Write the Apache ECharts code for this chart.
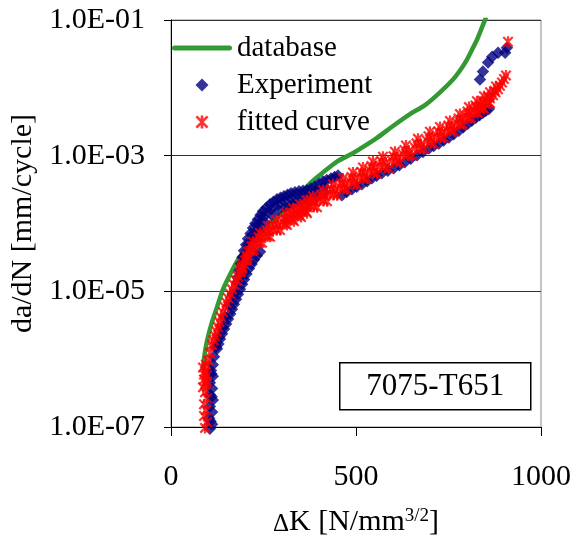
<!DOCTYPE html>
<html><head><meta charset="utf-8">
<script src="https://cdn.jsdelivr.net/npm/echarts@6/dist/echarts.min.js"></script>
<style>html,body{margin:0;padding:0;background:#fff}#c{width:574px;height:542px}</style>
</head><body><div id="c"></div>
<script>
// ---- data ----
const seriesNames = ['database', 'Experiment', 'fitted curve'];
const xTicks = [0, 500, 1000];
const yTickLabels = ['1.0E-07', '1.0E-05', '1.0E-03', '1.0E-01'];
const boxLabel = '7075-T651';

const dbK = [86.5, 91.9, 100, 110.8, 124.3, 140.5, 159.5, 181.1, 208.1, 235.1, 262.2, 294.6, 327, 375.7, 410.8, 448.6, 483.8, 510.8, 556.8, 600, 645.9, 686.5, 727, 762.2, 781.1, 800, 813.5, 827, 837.8, 848.6, 856.8];
const dbRate = [7.26e-7, 1.29e-6, 2.13e-6, 3.52e-6, 5.83e-6, 1.07e-5, 1.77e-5, 2.93e-5, 4.70e-5, 6.79e-5, 9.20e-5, 1.33e-4, 1.99e-4, 3.90e-4, 5.65e-4, 8.17e-4, 1.03e-3, 1.26e-3, 1.83e-3, 2.74e-3, 4.10e-3, 5.56e-3, 8.59e-3, 1.33e-2, 1.80e-2, 2.61e-2, 3.65e-2, 5.11e-2, 7.14e-2, 0.1, 0.131];

const expK = [
  105, 111, 103, 111, 105, 113, 105, 111, 105, 113, 108, 113, 107, 110, 109,
  116.2, 121.6, 129.7, 137.8, 145.9, 156.8, 167.6, 178.4, 180.5, 189.2, 197.3, 208.1, 221.6, 235.1, 248.6, 267.6, 286.5, 305.4, 324.3, 345.9, 367.6, 389.2, 410.8, 432.4, 451.4,
  185, 193, 203, 215, 228, 242, 258, 277, 296, 315, 335, 357, 378, 400, 421, 442,
  191, 199, 210, 224, 237, 251, 270, 289, 308, 327, 348, 370, 391, 413,
  193.3, 201.3, 212.1, 225.6, 239.1, 252.6, 271.6, 290.5, 309.4, 328.3, 349.9, 371.6, 393.2, 414.8,
  124.3, 132.4, 143.2, 154, 164.9, 175.7, 186.5, 197.3, 210.8, 224.3, 240.5,
  128, 138, 149, 160, 170, 181, 192, 204, 218, 232,
  462, 489, 516, 543, 570, 602, 632, 665, 697, 724, 751, 778, 802, 824, 843, 859,
  475, 502, 530, 556, 586, 617, 648, 681, 710, 737, 764, 790, 813, 834, 851,
  835, 843, 857, 868, 884, 903, 908
];
const expRate = [
  9.4e-8, 1.1e-7, 1.35e-7, 1.66e-7, 2.0e-7, 2.5e-7, 3.0e-7, 3.7e-7, 4.5e-7, 5.6e-7, 6.8e-7, 8.3e-7, 1.22e-7, 2.8e-7, 6.1e-7,
  1.09e-6, 1.52e-6, 2.13e-6, 2.98e-6, 4.17e-6, 6.25e-6, 9.04e-6, 1.35e-5, 1.60e-5, 2.56e-5, 3.97e-5, 5.94e-5, 8.59e-5, 1.16e-4, 1.52e-4, 1.93e-4, 2.28e-4, 2.52e-4, 2.79e-4, 2.98e-4, 3.08e-4, 3.52e-4, 4.17e-4, 4.61e-4, 5.11e-4,
  2.03e-5, 3.19e-5, 4.86e-5, 7.14e-5, 9.98e-5, 1.33e-4, 1.71e-4, 2.10e-4, 2.40e-4, 2.65e-4, 2.88e-4, 3.03e-4, 3.29e-4, 3.83e-4, 4.38e-4, 4.85e-4,
  2.13e-5, 3.30e-5, 4.94e-5, 7.14e-5, 9.64e-5, 1.26e-4, 1.60e-4, 1.90e-4, 2.09e-4, 2.32e-4, 2.48e-4, 2.56e-4, 2.93e-4, 3.47e-4,
  1.77e-5, 2.74e-5, 4.10e-5, 5.94e-5, 8.02e-5, 1.05e-4, 1.33e-4, 1.58e-4, 1.74e-4, 1.93e-4, 2.06e-4, 2.13e-4, 2.43e-4, 2.88e-4,
  1.42e-6, 1.99e-6, 2.79e-6, 3.90e-6, 5.46e-6, 7.64e-6, 1.07e-5, 1.50e-5, 2.17e-5, 2.93e-5, 3.84e-5,
  1.68e-6, 2.36e-6, 3.30e-6, 4.62e-6, 6.46e-6, 9.04e-6, 1.27e-5, 1.80e-5, 2.52e-5, 3.35e-5,
  2.62e-4, 3.21e-4, 3.79e-4, 4.65e-4, 5.49e-4, 6.50e-4, 8.0e-4, 1.01e-3, 1.28e-3, 1.51e-3, 1.85e-3, 2.33e-3, 2.95e-3, 3.62e-3, 4.28e-3, 4.88e-3,
  2.91e-4, 3.49e-4, 4.20e-4, 5.05e-4, 5.98e-4, 7.22e-4, 8.98e-4, 1.13e-3, 1.39e-3, 1.67e-3, 2.07e-3, 2.62e-3, 3.26e-3, 3.93e-3, 4.58e-3,
  1.33e-2, 1.74e-2, 2.36e-2, 2.88e-2, 3.30e-2, 3.30e-2, 3.90e-2
];

const fitK = [
  91.9, 97.3, 89.2, 94.6, 89.2, 97.3, 91.9, 86.5, 94.6, 89.2, 97.3, 91.9, 86.5, 94.6, 100, 89.2, 97.3, 105.4,
  110.8, 118.9, 127, 135.1, 145.9, 154, 164.9, 175.7, 186.5, 200, 213.5, 232.4, 254.1, 275.7, 302.7, 321.6, 340.5, 359.5, 375.7, 402.7, 429.7, 456.8, 483.8, 510.8, 537.8, 564.9, 597.3, 627, 659.5, 691.9, 718.9, 745.9, 773, 797.3, 818.9, 837.8, 854.1, 870.3, 883.8, 894.6, 905.4, 910.8,
  114.8, 123, 131, 140.5, 150, 159.5, 170.3, 181,
  193, 207, 223, 243, 265, 289, 312, 331, 350, 368, 389, 416, 443, 470, 497, 524, 551, 581, 612, 643, 676, 705, 732, 759, 785, 808, 828, 846, 862, 877, 889, 900,
  194.5, 208, 221.5, 240.4, 262.1, 283.7, 310.7, 329.6, 348.5, 367.5, 383.7, 410.7, 437.7, 464.8, 491.8, 518.8, 545.8, 572.9, 605.3, 635, 667.5, 699.9, 726.9, 753.9, 781, 805.3, 826.9, 845.8, 862.1, 878.3,
  178.5, 192, 205.5, 224.4, 246.1, 267.7, 294.7, 313.6, 332.5, 351.5, 367.7, 394.7, 421.7, 448.8, 475.8, 502.8, 529.8, 556.9, 589.3, 619, 651.5, 683.9, 710.9, 737.9, 765, 789.3, 810.9, 829.8, 846.1, 862.3,
  190.5, 204, 217.5, 236.4, 258.1, 279.7, 306.7, 325.6, 344.5, 363.5, 379.7, 406.7, 433.7, 460.8, 487.8, 514.8, 541.8, 568.9, 601.3, 631, 663.5, 695.9, 722.9, 749.9, 777, 801.3, 822.9, 841.8, 858.1, 874.3,
  190, 204, 220, 240, 262, 286, 309, 328, 347, 365, 386, 413, 440, 467, 494, 521, 548, 578, 609, 640, 673, 702, 729, 756, 782, 805, 825, 843, 859
];
const fitRate = [
  9.7e-8, 1.18e-7, 1.45e-7, 1.77e-7, 2.17e-7, 2.65e-7, 3.24e-7, 3.84e-7, 4.39e-7, 5.02e-7, 5.74e-7, 6.57e-7, 7.52e-7, 8.32e-7, 9.51e-7, 5.94e-7, 4.70e-7, 1.24e-6,
  1.63e-6, 2.20e-6, 2.98e-6, 4.17e-6, 5.83e-6, 7.91e-6, 1.07e-5, 1.45e-5, 1.89e-5, 2.84e-5, 3.97e-5, 5.37e-5, 6.79e-5, 8.32e-5, 1.05e-4, 1.24e-4, 1.42e-4, 1.63e-4, 1.86e-4, 2.28e-4, 2.79e-4, 3.41e-4, 4.17e-4, 4.93e-4, 6.04e-4, 7.14e-4, 8.45e-4, 1.04e-3, 1.31e-3, 1.66e-3, 1.96e-3, 2.40e-3, 3.03e-3, 3.84e-3, 4.70e-3, 5.56e-3, 6.35e-3, 7.78e-3, 9.51e-3, 1.20e-2, 1.52e-2, 4.77e-2,
  1.9e-6, 2.56e-6, 3.52e-6, 4.93e-6, 6.79e-6, 9.2e-6, 1.25e-5, 1.66e-5,
  2.32e-5, 3.36e-5, 4.62e-5, 6.04e-5, 7.52e-5, 9.35e-5, 1.14e-4, 1.33e-4, 1.52e-4, 1.74e-4, 2.06e-4, 2.52e-4, 3.08e-4, 3.77e-4, 4.53e-4, 5.46e-4, 6.57e-4, 7.77e-4, 9.37e-4, 1.17e-3, 1.47e-3, 1.80e-3, 2.17e-3, 2.70e-3, 3.41e-3, 4.25e-3, 5.11e-3, 5.94e-3, 7.03e-3, 8.60e-3, 1.07e-2, 1.35e-2,
  2.56e-5, 3.85e-5, 5.38e-5, 7.27e-5, 9.19e-5, 1.13e-4, 1.42e-4, 1.68e-4, 1.92e-4, 2.21e-4, 2.52e-4, 3.09e-4, 3.78e-4, 4.62e-4, 5.65e-4, 6.68e-4, 8.18e-4, 9.67e-4, 1.14e-3, 1.41e-3, 1.77e-3, 2.25e-3, 2.65e-3, 3.25e-3, 4.10e-3, 5.20e-3, 6.36e-3, 7.53e-3, 8.60e-3, 1.05e-2,
  1.44e-5, 2.17e-5, 3.03e-5, 4.10e-5, 5.19e-5, 6.36e-5, 8.02e-5, 9.47e-5, 1.08e-4, 1.25e-4, 1.42e-4, 1.74e-4, 2.13e-4, 2.61e-4, 3.19e-4, 3.77e-4, 4.61e-4, 5.45e-4, 6.46e-4, 7.94e-4, 1.0e-3, 1.27e-3, 1.50e-3, 1.83e-3, 2.31e-3, 2.93e-3, 3.59e-3, 4.25e-3, 4.85e-3, 5.94e-3,
  2.20e-5, 3.30e-5, 4.62e-5, 6.25e-5, 7.90e-5, 9.68e-5, 1.22e-4, 1.44e-4, 1.65e-4, 1.90e-4, 2.16e-4, 2.65e-4, 3.24e-4, 3.97e-4, 4.85e-4, 5.73e-4, 7.02e-4, 8.30e-4, 9.83e-4, 1.21e-3, 1.52e-3, 1.93e-3, 2.28e-3, 2.79e-3, 3.52e-3, 4.47e-3, 5.47e-3, 6.47e-3, 7.38e-3, 9.05e-3,
  1.99e-5, 2.89e-5, 3.97e-5, 5.19e-5, 6.47e-5, 8.04e-5, 9.80e-5, 1.14e-4, 1.31e-4, 1.50e-4, 1.77e-4, 2.17e-4, 2.65e-4, 3.24e-4, 3.90e-4, 4.69e-4, 5.65e-4, 6.68e-4, 8.06e-4, 1.01e-3, 1.26e-3, 1.55e-3, 1.87e-3, 2.32e-3, 2.93e-3, 3.65e-3, 4.39e-3, 5.11e-3, 6.04e-3
];

// ---- build chart ----
const zip = (a, b) => a.map((v, i) => [v, b[i]]);
const FONT = 'Liberation Serif';
const STAR = 'path://M4 0H6V10H4Z M1.41 0L10 8.59L8.59 10L0 1.41Z M8.59 0L10 1.41L1.41 10L0 8.59Z';
const DIAMOND = 'path://M5 0L10 5L5 10L0 5Z';
const LINEICON = 'path://M2.5 0H57.5A2.5 2.5 0 0 1 57.5 5H2.5A2.5 2.5 0 0 1 2.5 0Z';

const chart = echarts.init(document.getElementById('c'), null, {renderer: 'canvas'});
chart.setOption({
  animation: false,
  backgroundColor: '#fff',
  grid: {left: 171, right: 33, top: 20, bottom: 110, show: true, borderColor: '#8c8c8c', borderWidth: 1},
  legend: {
    orient: 'vertical', left: 172, top: 33, padding: 0, itemGap: 7,
    itemWidth: 60, itemHeight: 13, symbolKeepAspect: true,
    textStyle: {fontFamily: FONT, fontSize: 29, color: '#000', lineHeight: 30},
    data: [
      {name: seriesNames[0], icon: LINEICON, itemStyle: {color: '#339933'}},
      {name: seriesNames[1], icon: DIAMOND},
      {name: seriesNames[2], icon: STAR}
    ]
  },
  xAxis: {
    type: 'value', min: xTicks[0], max: xTicks[xTicks.length - 1], interval: xTicks[1] - xTicks[0],
    axisLine: {onZero: false, lineStyle: {color: '#000', width: 1}},
    axisTick: {inside: false, length: 9, lineStyle: {color: '#000'}},
    splitLine: {show: false},
    axisLabel: {fontFamily: FONT, fontSize: 30, color: '#000', margin: 35, formatter: v => String(v)},
    name: '{d|Δ}K [N/mm{s|3/2}]',
    nameLocation: 'middle', nameGap: 80,
    nameTextStyle: {
      fontFamily: FONT, fontSize: 30, color: '#000',
      rich: {
        d: {fontFamily: FONT, fontSize: 25, color: '#000', verticalAlign: 'bottom', lineHeight: 30},
        s: {fontFamily: FONT, fontSize: 19, color: '#000', verticalAlign: 'top', lineHeight: 30}
      }
    }
  },
  yAxis: {
    type: 'log', logBase: 10, min: 1e-7, max: 1e-1, interval: 2,
    axisLine: {lineStyle: {color: '#000', width: 1}},
    axisTick: {inside: false, length: 7, lineStyle: {color: '#000'}},
    splitLine: {show: true, lineStyle: {color: '#333', width: 1}},
    minorTick: {show: false},
    axisLabel: {
      fontFamily: FONT, fontSize: 30, color: '#000', margin: 26,
      formatter: v => {
        const e = Math.round(Math.log10(v));
        const idx = yTickLabels.findIndex(s => s === '1.0E-' + String(-e).padStart(2, '0'));
        return idx >= 0 ? yTickLabels[idx] : '';
      }
    },
    name: 'da/dN [mm/cycle]', nameLocation: 'middle', nameGap: 121,
    nameTextStyle: {fontFamily: FONT, fontSize: 30, color: '#000'}
  },
  series: [
    {
      name: seriesNames[0], type: 'line', data: zip(dbK, dbRate), smooth: 0.3,
      showSymbol: false, symbol: 'none', clip: true,
      lineStyle: {color: '#339933', width: 4.5, cap: 'round'}, itemStyle: {color: '#339933'}, z: 2
    },
    {
      name: seriesNames[1], type: 'scatter', data: zip(expK, expRate), symbol: DIAMOND,
      symbolSize: 12.5, clip: false, itemStyle: {color: '#000080'}, z: 3
    },
    {
      name: seriesNames[2], type: 'scatter', data: zip(fitK, fitRate), symbol: STAR,
      symbolSize: 11, clip: false, itemStyle: {color: '#ff0000'}, z: 4
    }
  ],
  graphic: [{
    type: 'group', left: 339, top: 362,
    children: [
      {type: 'rect', shape: {x: 0, y: 0, width: 191, height: 47}, style: {fill: '#fff', stroke: '#000', lineWidth: 1.5}},
      {type: 'text', x: 95.5, y: 24, style: {text: boxLabel, fontFamily: FONT, fontSize: 31, fill: '#000', align: 'center', verticalAlign: 'middle'}}
    ]
  }]
});
</script></body></html>
